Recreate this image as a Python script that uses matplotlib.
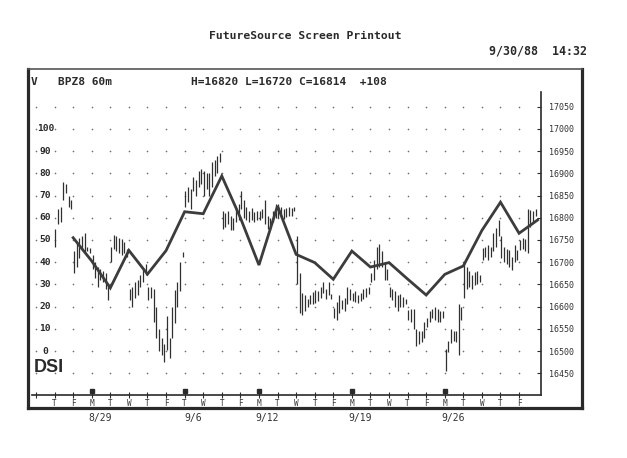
import matplotlib
matplotlib.use("Agg")
import matplotlib.pyplot as plt
from matplotlib.lines import Line2D
import numpy as np

# ---- data ----
# day columns: index 0 = W 8/24 (empty), 1 = T 8/25 ... 26 = F 9/30
day_letters = ["", "T", "F", "M", "T", "W", "T", "F", "T", "W", "T", "F", "M",
               "T", "W", "T", "F", "M", "T", "W", "T", "F", "M", "T", "W", "T", "F"]
week_starts = [3, 8, 12, 17, 22]
date_labels = ["8/29", "9/6", "9/12", "9/19", "9/26"]

# 60 minute bars, 7 per session, sessions 8/25 .. 9/30
bar_low = [
    16735, 16785, 16790, 16840, 16855, 16825, 16820,   # 8/25
    16675, 16690, 16710, 16730, 16720, 16725, 16720,   # 8/26
    16685, 16665, 16645, 16660, 16655, 16640, 16615,   # 8/29
    16700, 16730, 16725, 16720, 16715, 16720, 16712,   # 8/30
    16615, 16598, 16620, 16625, 16645, 16655, 16670,   # 8/31
    16615, 16620, 16565, 16530, 16500, 16490, 16475,   # 9/1
    16502, 16485, 16530, 16563, 16600, 16635, 16712,   # 9/2
    16825, 16835, 16820, 16860, 16850, 16870, 16875,   # 9/6
    16850, 16865, 16850, 16870, 16895, 16900, 16925,   # 9/7
    16775, 16780, 16785, 16772, 16772, 16790, 16795,   # 9/8
    16820, 16800, 16795, 16790, 16795, 16790, 16795,   # 9/9
    16795, 16800, 16785, 16775, 16772, 16790, 16800,   # 9/12
    16800, 16805, 16798, 16802, 16805, 16805, 16815,   # 9/13
    16650, 16585, 16580, 16590, 16600, 16605, 16605,   # 9/14
    16608, 16612, 16620, 16630, 16618, 16625, 16618,   # 9/15
    16575, 16570, 16585, 16595, 16590, 16605, 16615,   # 9/16
    16612, 16610, 16608, 16612, 16618, 16622, 16628,   # 9/19
    16655, 16660, 16685, 16690, 16690, 16660, 16660,   # 9/20
    16622, 16615, 16600, 16590, 16600, 16598, 16605,   # 9/21
    16570, 16565, 16550, 16512, 16515, 16520, 16530,   # 9/22
    16555, 16565, 16575, 16570, 16565, 16565, 16575,   # 9/23
    16455, 16497, 16517, 16522, 16520, 16490, 16570,   # 9/26
    16620, 16640, 16645, 16640, 16648, 16650, 16655,   # 9/27
    16705, 16712, 16705, 16712, 16725, 16735, 16758,   # 9/28
    16710, 16700, 16695, 16688, 16682, 16700, 16705,   # 9/29
    16728, 16730, 16725, 16720, 16780, 16790, 16805,   # 9/30
]
bar_high = [
    16775, 16820, 16825, 16880, 16875, 16850, 16840,
    16725, 16745, 16755, 16760, 16765, 16735, 16732,
    16715, 16700, 16690, 16685, 16680, 16675, 16650,
    16735, 16762, 16758, 16755, 16752, 16745, 16730,
    16640, 16645, 16655, 16660, 16672, 16682, 16695,
    16645, 16645, 16640, 16600, 16550, 16530, 16515,
    16578, 16530, 16600, 16637, 16655, 16700, 16722,
    16860, 16870, 16865, 16892, 16885, 16905, 16910,
    16905, 16900, 16900, 16925, 16930, 16940, 16945,
    16815, 16810, 16815, 16805, 16800, 16820, 16830,
    16860, 16840, 16825, 16815, 16822, 16812, 16815,
    16815, 16820, 16840, 16805, 16800, 16815, 16830,
    16830, 16825, 16820, 16822, 16825, 16822, 16825,
    16760, 16675, 16630, 16625, 16618, 16625, 16632,
    16638, 16635, 16645, 16655, 16640, 16655, 16628,
    16597, 16610, 16625, 16615, 16620, 16645, 16640,
    16630, 16635, 16625, 16630, 16640, 16642, 16645,
    16675, 16705, 16735, 16740, 16725, 16700, 16685,
    16645, 16640, 16635, 16625, 16628, 16622, 16618,
    16592, 16595, 16595, 16550, 16545, 16545, 16565,
    16575, 16590, 16595, 16598, 16595, 16590, 16590,
    16505, 16522, 16550, 16545, 16545, 16605, 16598,
    16700, 16690, 16680, 16672, 16678, 16680, 16672,
    16732, 16735, 16738, 16735, 16765, 16778, 16795,
    16760, 16735, 16730, 16728, 16712, 16738, 16728,
    16750, 16755, 16752, 16820, 16818, 16815, 16820,
]
bars_per_day = 7

# daily DSI, plotted from F 8/26 to the end of 9/30
dsi_days = list(range(2, 28))
dsi = [51, 40.5, 28.4, 45.3, 34.6, 45.2, 62.7, 61.8, 78.8, 60, 38.7, 65.3, 43.5,
       39.8, 32.3, 45, 37.8, 39.8, 32.4, 25.2, 34.5, 38.3, 54.3, 67, 53, 59]
dsi_levels = list(range(0, 101, 10))

price_ticks = list(range(16450, 17051, 50))

ink = "#2a2a2a"
mono = "DejaVu Sans Mono"

fig = plt.figure(figsize=(6.27, 4.58), dpi=100)
fig.patch.set_facecolor("white")

# overlay in pixel coords for the frame and header text
ov = fig.add_axes([0, 0, 1, 1])
ov.set_xlim(0, 627)
ov.set_ylim(458, 0)
ov.axis("off")
ov.patch.set_visible(False)

ov.add_line(Line2D([28, 28], [69, 408], lw=2.3, color=ink))
ov.add_line(Line2D([582, 582], [69, 408], lw=2.3, color=ink))
ov.add_line(Line2D([28, 582], [69, 69], lw=1.2, color="#555555"))
ov.add_line(Line2D([28, 582], [408, 408], lw=2.3, color=ink))

ov.text(305, 36, "FutureSource Screen Printout", ha="center", va="center",
        fontsize=8.2, family=mono, weight="bold", color=ink)
ov.text(587, 51, "9/30/88  14:32", ha="right", va="center",
        fontsize=8.4, family=mono, weight="bold", color=ink)
ov.text(31, 82, "V", ha="left", va="center", fontsize=8, family=mono,
        weight="bold", color=ink)
ov.text(58, 82, "BPZ8 60m", ha="left", va="center", fontsize=8, family=mono,
        weight="bold", color=ink)
ov.text(191, 82, "H=16820 L=16720 C=16814  +108", ha="left", va="center",
        fontsize=8, family=mono, weight="bold", color=ink)
ov.text(34, 368, "DSI", ha="left", va="center", fontsize=13,
        family="Liberation Sans", weight="bold", color=ink)

# main chart
ax = fig.add_axes([32 / 627, 63 / 458, 509 / 627, 303 / 458])
ax.patch.set_visible(False)
ax.set_xlim(-0.215, 27.18)
ax.set_ylim(16401, 17083)

# dot grid
gx, gy = np.meshgrid(np.arange(len(day_letters)), price_ticks)
ax.plot(gx.ravel(), gy.ravel(), ls="none", marker="o", ms=1.2,
        color="#707070", mec="none")

# hourly bars
n_days = len(bar_low) // bars_per_day
day_idx = np.repeat(np.arange(1, n_days + 1), bars_per_day)
slot = np.tile(np.arange(bars_per_day), n_days)
bx = day_idx + (slot + 0.3) / bars_per_day
ax.vlines(bx, bar_low, bar_high, color="#303030", lw=0.9)

# DSI line on its own scale (0..100 sits on 16500..17000)
ax2 = ax.twinx()
ax2.set_ylim((16401 - 16500) / 5, (17083 - 16500) / 5)
ax2.axis("off")
ax2.plot(dsi_days, dsi, color="#3c3c3c", lw=2.0, solid_joinstyle="miter")
for v in dsi_levels:
    ax2.text(0.5, v, str(v), ha="center", va="center", fontsize=6.8,
             family=mono, weight="bold", color=ink)

# axes
for side in ["top", "left"]:
    ax.spines[side].set_visible(False)
for side in ["right", "bottom"]:
    ax.spines[side].set_linewidth(1.2)
    ax.spines[side].set_color(ink)

ax.yaxis.tick_right()
ax.set_yticks(price_ticks)
ax.set_yticklabels([str(p) for p in price_ticks])
ax.tick_params(axis="y", direction="in", length=3, width=0.8, color=ink,
               pad=6, labelsize=6, labelcolor="#333333")
for lab in ax.get_yticklabels():
    lab.set_family(mono)

ax.set_xticks(range(len(day_letters)))
ax.set_xticklabels(day_letters)
ax.tick_params(axis="x", direction="inout", length=5, width=0.8, color=ink,
               pad=0.5, labelsize=5.5, labelcolor="#333333")
for lab in ax.get_xticklabels():
    lab.set_family(mono)

ax.plot(week_starts, [0.012] * len(week_starts), ls="none", marker="s", ms=3,
        color=ink, transform=ax.get_xaxis_transform(), clip_on=False)
for d, lab in zip(week_starts, date_labels):
    ax.text(d + 0.45, -0.076, lab, ha="center", va="center", fontsize=7,
            family=mono, color="#333333", transform=ax.get_xaxis_transform(),
            clip_on=False)

fig.savefig("out.png", dpi=100, facecolor="white")
